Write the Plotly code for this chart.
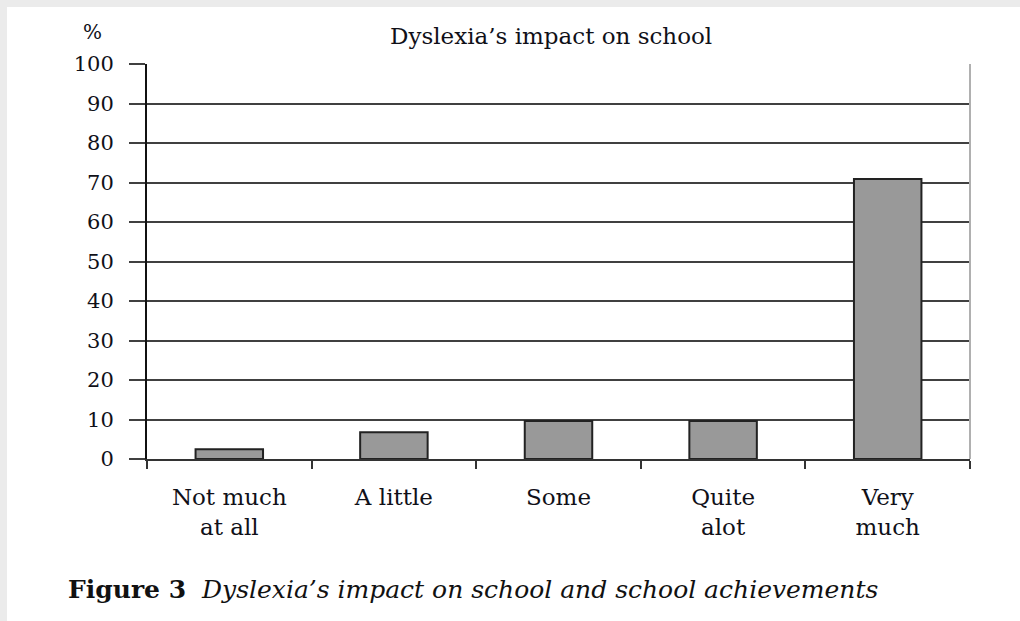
import plotly.graph_objects as go

categories = ["Not much<br>at all", "A little", "Some", "Quite<br>alot", "Very<br>much"]
values = [2.5, 6.8, 9.6, 9.6, 70.9]
y_ticks = [0, 10, 20, 30, 40, 50, 60, 70, 80, 90, 100]

W, H = 1020, 621
L, R, T, B = 147, 50, 64, 162
pw, ph = W - L - R, H - T - B

def px(x):
    return (x - L) / pw

def py(y):
    return (H - B - y) / ph

serif = "DejaVu Serif"
ink = "#101018"

fig = go.Figure(go.Bar(
    x=categories, y=values,
    marker=dict(color="#999999", line=dict(color="#222222", width=2)),
))

fig.update_layout(
    width=W, height=H,
    margin=dict(l=L, r=R, t=T, b=B, pad=0),
    paper_bgcolor="#ebebeb",
    plot_bgcolor="white",
    bargap=0.59,
    showlegend=False,
    font=dict(family=serif, size=23, color=ink),
    xaxis=dict(
        type="category", range=[-0.5, 4.5],
        showgrid=False, showline=True, linecolor="#333333", linewidth=2,
        ticks="outside", tickson="boundaries", ticklen=8, tickcolor="#333333", tickwidth=2,
        ticklabelstandoff=16,
        tickfont=dict(family=serif, size=23, color=ink),
        fixedrange=True,
    ),
    yaxis=dict(
        range=[0, 100], tickvals=y_ticks, ticktext=[str(v) for v in y_ticks],
        showgrid=True, gridcolor="#404040", gridwidth=1.8,
        showline=True, linecolor="#111111", linewidth=2,
        ticks="outside", ticklen=16, tickcolor="#404040", tickwidth=1.8,
        ticklabelstandoff=11,
        tickfont=dict(family=serif, size=21, color=ink),
        zeroline=False, fixedrange=True,
    ),
    shapes=[
        dict(type="rect", xref="paper", yref="paper", layer="below",
             x0=px(7), x1=px(W + 5), y0=py(7), y1=py(H + 5),
             fillcolor="white", line=dict(width=0)),
        dict(type="line", xref="paper", yref="paper",
             x0=1, x1=1, y0=0, y1=1, line=dict(color="#b0b0b0", width=2)),
    ],
    annotations=[
        dict(text="Dyslexia’s impact on school", xref="paper", yref="paper",
             x=px(551), y=py(36), xanchor="center", yanchor="middle", showarrow=False,
             font=dict(family=serif, size=23, color=ink)),
        dict(text="%", xref="paper", yref="paper",
             x=px(92), y=py(32), xanchor="center", yanchor="middle", showarrow=False,
             font=dict(family=serif, size=20, color=ink)),
        dict(text="<b>Figure 3</b>  <i>Dyslexia’s impact on school and school achievements</i>",
             xref="paper", yref="paper",
             x=px(66), y=py(589), xanchor="left", yanchor="middle", showarrow=False,
             font=dict(family=serif, size=25, color="#111111")),
    ],
)

fig.write_html("out.html", config={"displayModeBar": False},
               post_script="document.body.style.margin='0';")
